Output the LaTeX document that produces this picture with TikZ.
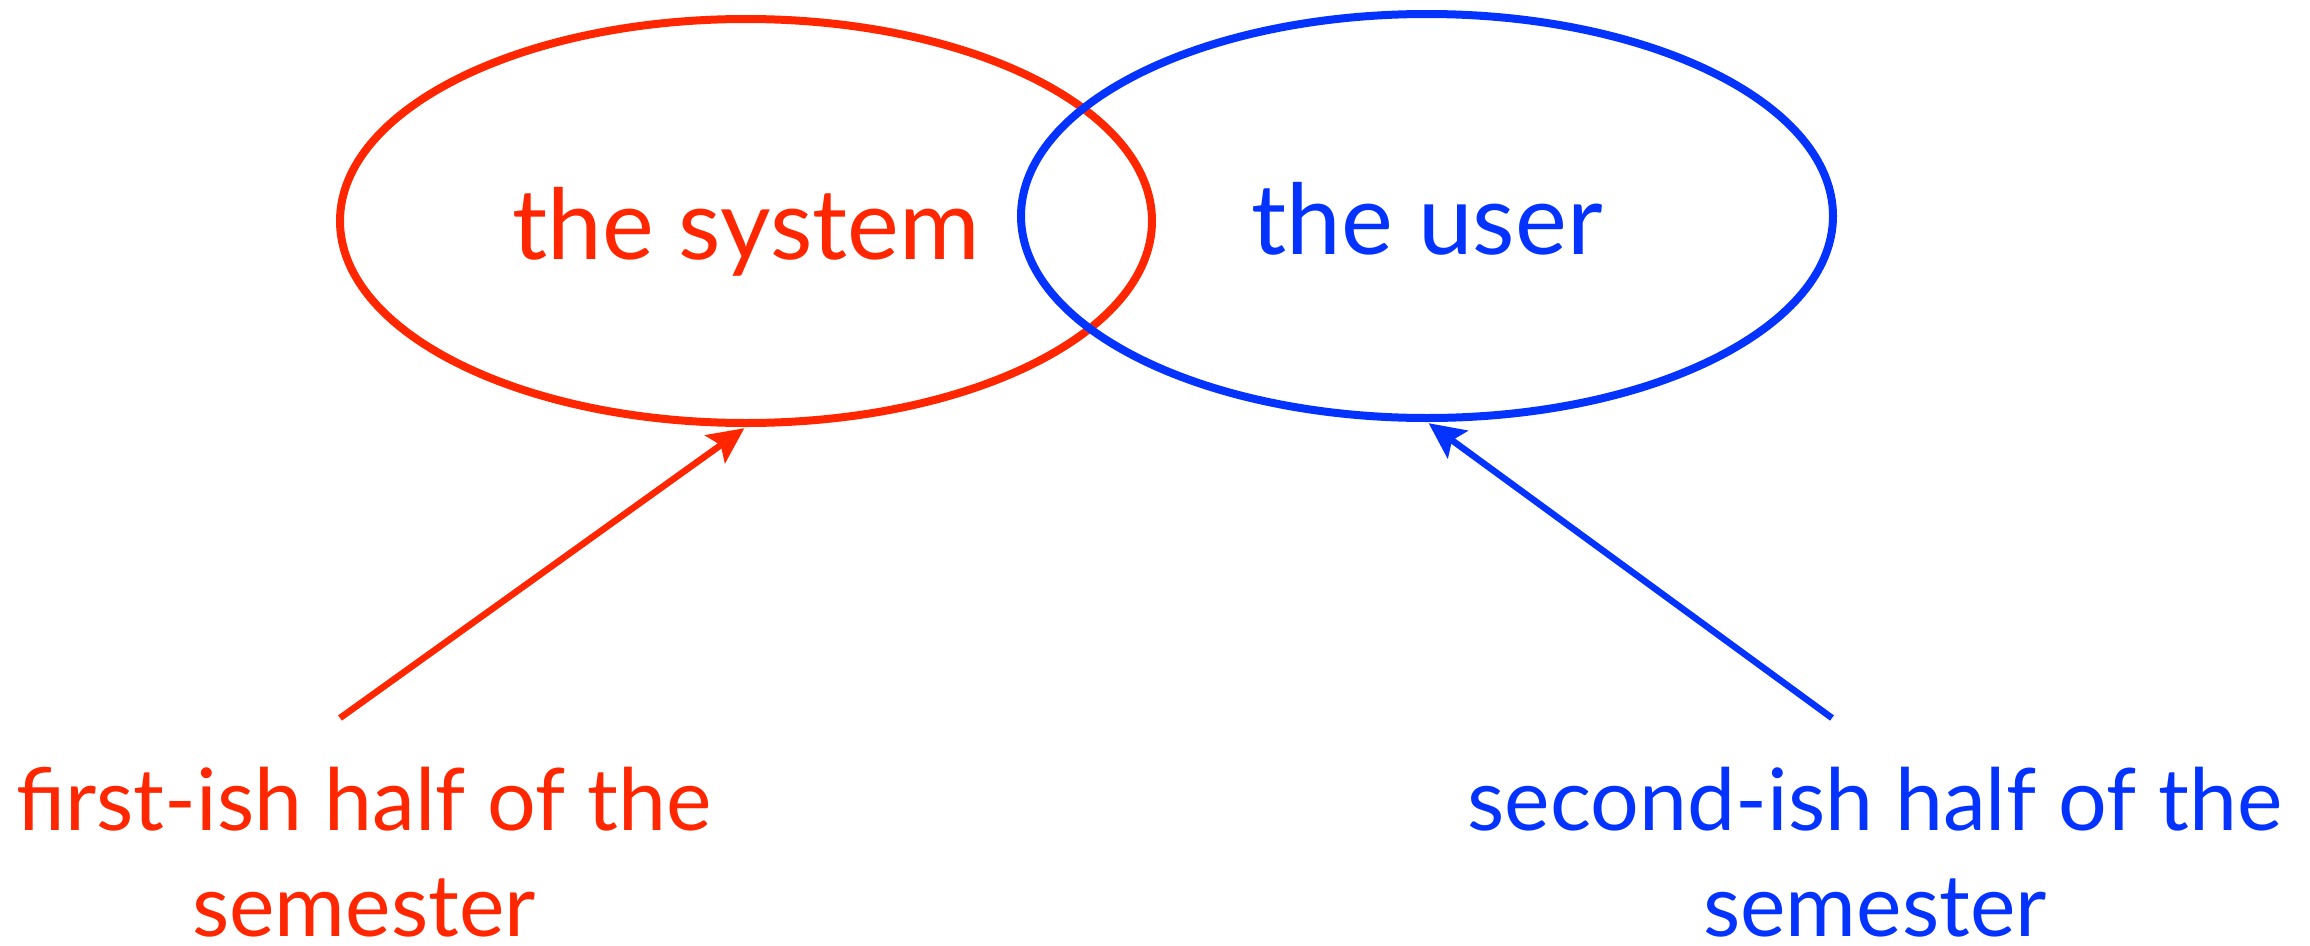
\documentclass[tikz,border=0pt]{standalone}
\usepackage{fontspec}
\setmainfont{Lato}
\usetikzlibrary{shapes.geometric,arrows.meta}
\definecolor{kred}{RGB}{255,38,0}
\definecolor{kblue}{RGB}{4,51,255}
\tikzset{
  circ/.style={ellipse, draw, line width=8pt, minimum width=812pt, minimum height=404pt,
    inner sep=0pt, text height=76pt, text depth=0pt, font=\fontsize{98}{100}\selectfont},
  caption/.style={align=center, anchor=base, inner sep=0pt, text depth=0pt, font=\fontsize{86}{106}\selectfont},
  pointer/.style={line width=6.5pt, -{Stealth[length=36pt, width=34pt, inset=7pt]}, shorten >=2pt}
}
\begin{document}
\begin{tikzpicture}[x=1pt,y=-1pt]
\useasboundingbox (0,0) rectangle (2310,945);
\node[circ, kred] (sys) at (746,221) {the system};
\node[circ, kblue] (usr) at (1427,216) {the user};
\node[caption, text=kred] (first) at (364,936) {first-ish half of the\\semester};
\node[caption, text=kblue] (second) at (1875,936) {second-ish half of the\\semester};
\coordinate (fs) at (340,718);
\coordinate (ss) at (1832,718);
\draw[pointer, kred] (fs) -- (sys.south);
\draw[pointer, kblue] (ss) -- (usr.south);
\end{tikzpicture}
\end{document}
